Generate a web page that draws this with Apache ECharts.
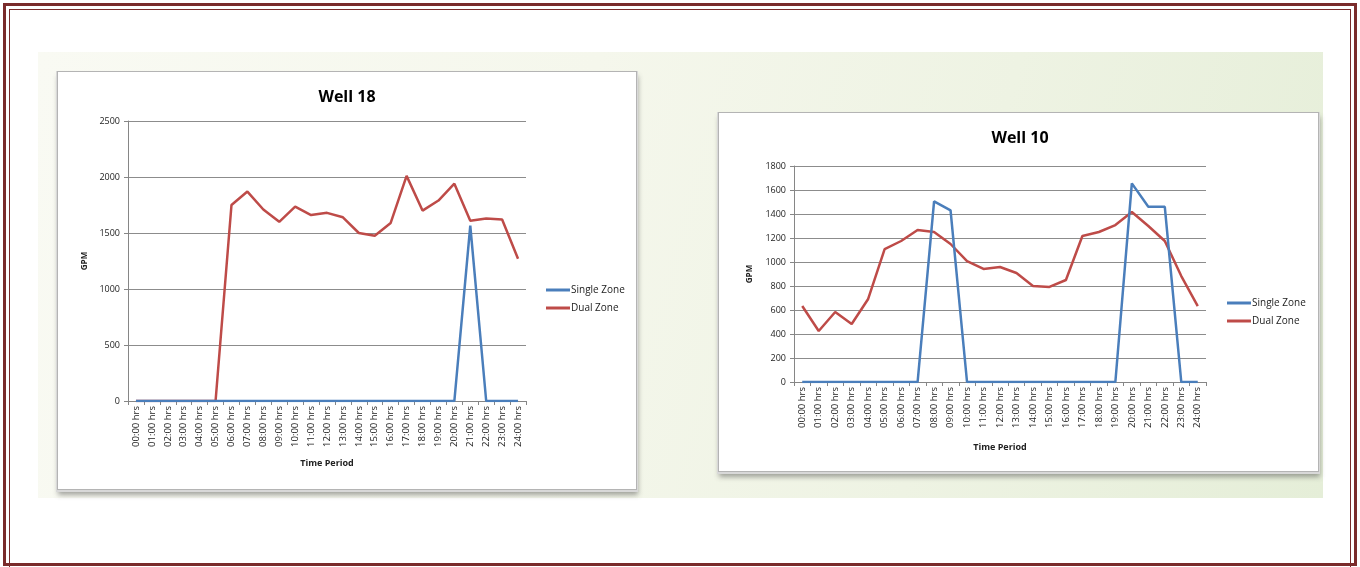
<!DOCTYPE html>
<html>
<head>
<meta charset="utf-8">
<script src="https://cdn.jsdelivr.net/npm/echarts@6/dist/echarts.min.js"></script>
<style>
  html, body { margin: 0; padding: 0; background: #ffffff; }
  body { width: 1360px; height: 567px; position: relative; overflow: hidden; font-family: "Open Sans", "Liberation Sans", sans-serif; }
  .frame-outer { position: absolute; left: 3px; top: 3px; width: 1354px; height: 563px; border: 3px solid #7a2b2b; box-sizing: border-box; }
  .frame-inner { position: absolute; left: 9px; top: 9px; width: 1342px; height: 570px; border: 1px solid #7a2b2b; box-sizing: border-box; }
  .panel { position: absolute; left: 38px; top: 52px; width: 1285px; height: 446px;
           background: linear-gradient(105deg, #f9faf3 0%, #f5f7ec 40%, #eef3e3 70%, #e5eed8 100%); }
  .box { position: absolute; background: #ffffff; border: 1px solid #b4b4b4; box-sizing: border-box;
         box-shadow: 0 1px 0 1px #d8d8d8, 1px 5px 5px rgba(60,60,60,0.45); }
  .box .chart { position: absolute; left: 0; top: 0; width: 100%; height: 100%; }
</style>
</head>
<body>
<div class="frame-outer"></div>
<div class="frame-inner"></div>
<div class="panel"></div>
<div class="box" style="left:57px; top:71px; width:580px; height:419px;"><div class="chart" id="well18"></div></div>
<div class="box" style="left:718px; top:112px; width:601px; height:360px;"><div class="chart" id="well10"></div></div>
<script>
// Hourly time periods shared by both wells
const hours = ['00:00 hrs','01:00 hrs','02:00 hrs','03:00 hrs','04:00 hrs','05:00 hrs','06:00 hrs',
  '07:00 hrs','08:00 hrs','09:00 hrs','10:00 hrs','11:00 hrs','12:00 hrs','13:00 hrs','14:00 hrs',
  '15:00 hrs','16:00 hrs','17:00 hrs','18:00 hrs','19:00 hrs','20:00 hrs','21:00 hrs','22:00 hrs',
  '23:00 hrs','24:00 hrs'];

// Well 18 flow (GPM)
const well18Single = [0,0,0,0,0,0,0,0,0,0,0,0,0,0,0,0,0,0,0,0,0,1565,0,0,0];
const well18Dual   = [0,0,0,0,0,0,1750,1870,1710,1600,1735,1660,1680,1640,1500,1475,1590,2010,1700,1790,1940,1610,1630,1620,1270];

// Well 10 flow (GPM)
const well10Single = [0,0,0,0,0,0,0,0,1505,1430,0,0,0,0,0,0,0,0,0,0,1655,1460,1460,0,0];
const well10Dual   = [633,425,583,483,692,1108,1175,1267,1250,1150,1008,942,958,908,800,792,850,1217,1250,1308,1417,1300,1175,883,633];

const seriesNames = ['Single Zone', 'Dual Zone'];
const seriesColors = ['#4a7ebb', '#be4b48'];
const font = '"Open Sans", "Liberation Sans", sans-serif';

function buildOption(cfg) {
  return {
    animation: false,
    title: {
      text: cfg.title, left: cfg.titleX, top: cfg.titleY, textAlign: 'center',
      textStyle: { fontFamily: font, fontSize: 16, fontWeight: 'bold', color: '#000' }
    },
    legend: {
      orient: 'vertical', left: cfg.legendX, top: cfg.legendY, itemGap: 8,
      itemWidth: 24, itemHeight: 3, icon: 'rect',
      textStyle: { fontFamily: font, fontSize: 10, color: '#222', padding: [0, 0, 0, -4] },
      data: seriesNames
    },
    grid: { left: cfg.grid[0], top: cfg.grid[1], width: cfg.grid[2], height: cfg.grid[3] },
    xAxis: {
      type: 'category', data: hours, boundaryGap: true,
      name: 'Time Period', nameLocation: 'middle', nameGap: cfg.xNameGap,
      nameTextStyle: { fontFamily: font, fontSize: 9, fontWeight: 'bold', color: '#222' },
      axisLine: { lineStyle: { color: '#868686', width: 1 } },
      axisTick: { show: true, length: 4, lineStyle: { color: '#868686' } },
      axisLabel: { rotate: 90, interval: 0, fontFamily: font, fontSize: 9.5, color: '#222', margin: 5 },
      splitLine: { show: false }
    },
    yAxis: {
      type: 'value', min: 0, max: cfg.yMax, interval: cfg.yStep,
      name: 'GPM', nameLocation: 'middle', nameGap: cfg.yNameGap, nameRotate: 90,
      nameTextStyle: { fontFamily: font, fontSize: 8, fontWeight: 'bold', color: '#222' },
      axisLine: { show: true, lineStyle: { color: '#868686', width: 1 } },
      axisTick: { show: true, length: 4, lineStyle: { color: '#868686' } },
      axisLabel: { fontFamily: font, fontSize: 9, color: '#222', margin: 8, formatter: v => String(v) },
      splitLine: { lineStyle: { color: '#8c8c8c', width: 1 } }
    },
    series: [
      { name: seriesNames[0], type: 'line', data: cfg.single, symbol: 'none',
        lineStyle: { color: seriesColors[0], width: 2.5 }, itemStyle: { color: seriesColors[0] }, z: 3 },
      { name: seriesNames[1], type: 'line', data: cfg.dual, symbol: 'none',
        lineStyle: { color: seriesColors[1], width: 2.5 }, itemStyle: { color: seriesColors[1] }, z: 2 }
    ]
  };
}

echarts.init(document.getElementById('well18'), null, { renderer: 'canvas' }).setOption(buildOption({
  title: 'Well 18', titleX: 284, titleY: 12,
  legendX: 483, legendY: 208,
  grid: [70, 49, 398, 280],
  xNameGap: 58, yNameGap: 38,
  yMax: 2500, yStep: 500,
  single: well18Single, dual: well18Dual
}));

echarts.init(document.getElementById('well10'), null, { renderer: 'canvas' }).setOption(buildOption({
  title: 'Well 10', titleX: 296, titleY: 12,
  legendX: 503, legendY: 180,
  grid: [75, 53, 412, 216],
  xNameGap: 61, yNameGap: 40,
  yMax: 1800, yStep: 200,
  single: well10Single, dual: well10Dual
}));
</script>
</body>
</html>
